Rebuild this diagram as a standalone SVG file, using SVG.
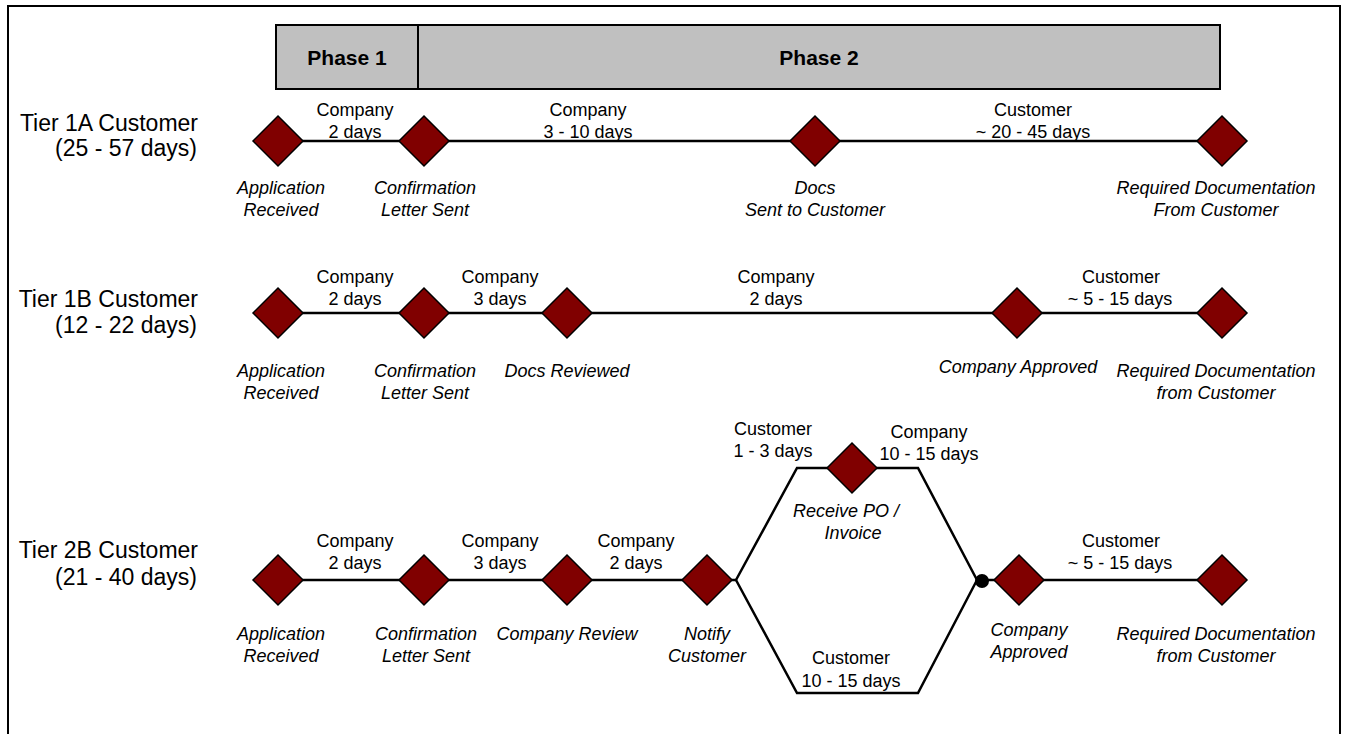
<svg xmlns="http://www.w3.org/2000/svg" width="1347" height="734" viewBox="0 0 1347 734">
<defs>
<style>
.t{font-family:"Liberation Sans",Arial,sans-serif;font-size:18px;fill:#000;text-anchor:middle}
.i{font-family:"Liberation Sans",Arial,sans-serif;font-size:18px;font-style:italic;fill:#000;text-anchor:middle}
.tier{font-family:"Liberation Sans",Arial,sans-serif;font-size:23px;fill:#000;text-anchor:end}
.ph{font-family:"Liberation Sans",Arial,sans-serif;font-size:21px;font-weight:bold;fill:#000;text-anchor:middle}
.ln{stroke:#000;stroke-width:2.5;fill:none}
.dm{fill:#800000;stroke:#000;stroke-width:1.5}
</style>
<polygon id="d" class="dm" points="0,-25 25,0 0,25 -25,0"/>
</defs>
<rect x="0" y="0" width="1347" height="734" fill="#fff"/>
<rect x="8" y="6" width="1332" height="740" fill="none" stroke="#000" stroke-width="2"/>

<g id="phases">
<rect x="276" y="25" width="944" height="64" fill="#c0c0c0" stroke="#000" stroke-width="2"/>
<line x1="418" y1="25" x2="418" y2="89" stroke="#000" stroke-width="2"/>
<text class="ph" x="347" y="65">Phase 1</text>
<text class="ph" x="819" y="65">Phase 2</text>
</g>

<g id="tier-labels">
<text class="tier" x="198" y="131">Tier 1A Customer</text>
<text class="tier" x="197" y="156">(25 - 57 days)</text>
<text class="tier" x="198" y="307">Tier 1B Customer</text>
<text class="tier" x="197" y="333">(12 - 22 days)</text>
<text class="tier" x="198" y="558">Tier 2B Customer</text>
<text class="tier" x="197" y="585">(21 - 40 days)</text>
</g>

<g id="connectors">
<line class="ln" x1="278" y1="141" x2="1222" y2="141"/>
<line class="ln" x1="278" y1="313" x2="1222" y2="313"/>
<line class="ln" x1="278" y1="580" x2="736" y2="580"/>
<polyline class="ln" points="736,580 797,468 918,468 977,580"/>
<polyline class="ln" points="736,580 797,693 918,693 977,580"/>
<line class="ln" x1="977" y1="580" x2="1222" y2="580"/>
<circle cx="982" cy="581" r="7" fill="#000"/>
</g>

<g id="durations">
<text class="t" x="355" y="116">Company</text><text class="t" x="355" y="138">2 days</text>
<text class="t" x="588" y="116">Company</text><text class="t" x="588" y="138">3 - 10 days</text>
<text class="t" x="1033" y="116">Customer</text><text class="t" x="1033" y="138">~ 20 - 45 days</text>

<text class="t" x="355" y="283">Company</text><text class="t" x="355" y="305">2 days</text>
<text class="t" x="500" y="283">Company</text><text class="t" x="500" y="305">3 days</text>
<text class="t" x="776" y="283">Company</text><text class="t" x="776" y="305">2 days</text>
<text class="t" x="1121" y="283">Customer</text><text class="t" x="1120" y="305">~ 5 - 15 days</text>

<text class="t" x="355" y="547">Company</text><text class="t" x="355" y="569">2 days</text>
<text class="t" x="500" y="547">Company</text><text class="t" x="500" y="569">3 days</text>
<text class="t" x="636" y="547">Company</text><text class="t" x="636" y="569">2 days</text>
<text class="t" x="1121" y="547">Customer</text><text class="t" x="1120" y="569">~ 5 - 15 days</text>

<text class="t" x="773" y="435">Customer</text><text class="t" x="773" y="457">1 - 3 days</text>
<text class="t" x="929" y="438">Company</text><text class="t" x="929" y="460">10 - 15 days</text>
<text class="t" x="851" y="664">Customer</text><text class="t" x="851" y="687">10 - 15 days</text>
</g>

<g id="tier1a-app"><use href="#d" x="278" y="141"/><text class="i" x="281" y="194">Application</text><text class="i" x="281" y="216">Received</text></g>
<g id="tier1a-conf"><use href="#d" x="424" y="141"/><text class="i" x="425" y="194">Confirmation</text><text class="i" x="425" y="216">Letter Sent</text></g>
<g id="tier1a-docs"><use href="#d" x="815" y="141"/><text class="i" x="815" y="194">Docs</text><text class="i" x="815" y="216">Sent to Customer</text></g>
<g id="tier1a-req"><use href="#d" x="1222" y="141"/><text class="i" x="1216" y="194">Required Documentation</text><text class="i" x="1216" y="216">From Customer</text></g>

<g id="tier1b-app"><use href="#d" x="278" y="313"/><text class="i" x="281" y="377">Application</text><text class="i" x="281" y="399">Received</text></g>
<g id="tier1b-conf"><use href="#d" x="424" y="313"/><text class="i" x="425" y="377">Confirmation</text><text class="i" x="425" y="399">Letter Sent</text></g>
<g id="tier1b-docs"><use href="#d" x="567" y="313"/><text class="i" x="567" y="377">Docs Reviewed</text></g>
<g id="tier1b-approved"><use href="#d" x="1017" y="313"/><text class="i" x="1018" y="373">Company Approved</text></g>
<g id="tier1b-req"><use href="#d" x="1222" y="313"/><text class="i" x="1216" y="377">Required Documentation</text><text class="i" x="1216" y="399">from Customer</text></g>

<g id="tier2b-app"><use href="#d" x="278" y="580"/><text class="i" x="281" y="640">Application</text><text class="i" x="281" y="662">Received</text></g>
<g id="tier2b-conf"><use href="#d" x="424" y="580"/><text class="i" x="426" y="640">Confirmation</text><text class="i" x="426" y="662">Letter Sent</text></g>
<g id="tier2b-review"><use href="#d" x="567" y="580"/><text class="i" x="567" y="640">Company Review</text></g>
<g id="tier2b-notify"><use href="#d" x="707" y="580"/><text class="i" x="707" y="640">Notify</text><text class="i" x="707" y="662">Customer</text></g>
<g id="tier2b-po"><use href="#d" x="852" y="468"/><text class="i" x="846" y="517">Receive PO /</text><text class="i" x="853" y="539">Invoice</text></g>
<g id="tier2b-approved"><use href="#d" x="1019" y="580"/><text class="i" x="1029" y="636">Company</text><text class="i" x="1029" y="658">Approved</text></g>
<g id="tier2b-req"><use href="#d" x="1222" y="580"/><text class="i" x="1216" y="640">Required Documentation</text><text class="i" x="1216" y="662">from Customer</text></g>
</svg>
